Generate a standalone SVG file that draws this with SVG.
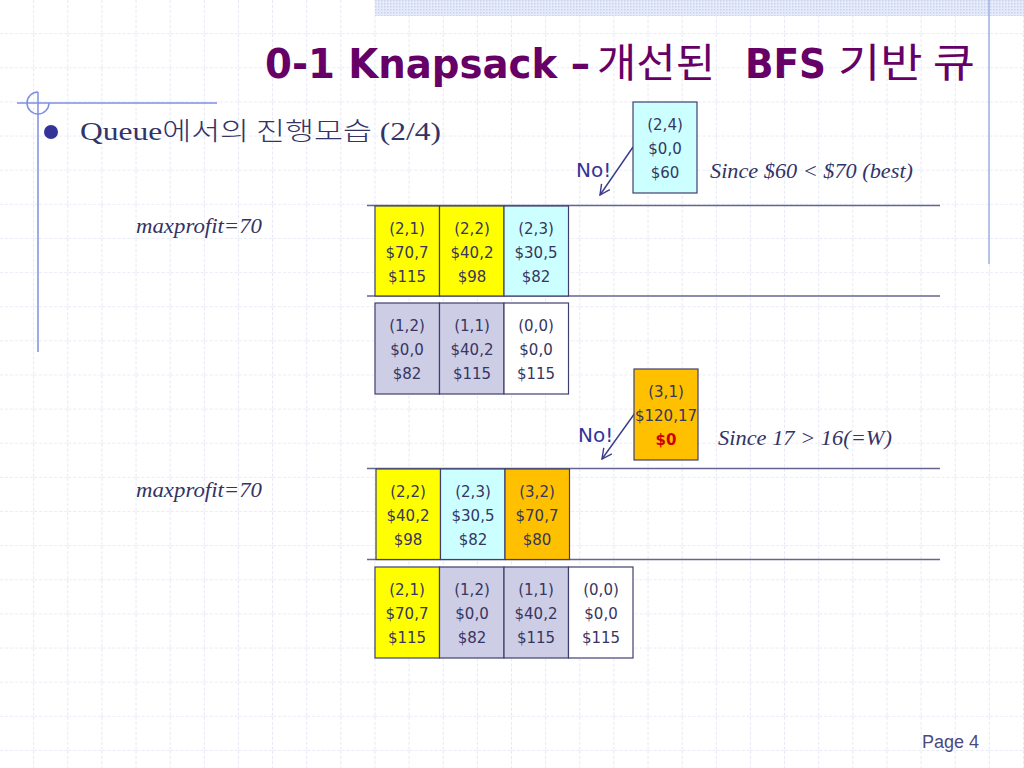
<svg xmlns="http://www.w3.org/2000/svg" width="1024" height="768" viewBox="0 0 1024 768">
<defs>
<pattern id="grid" x="0" y="0" width="34.133" height="34.133" patternUnits="userSpaceOnUse">
<path d="M34.133 0V34.133M0 34.133H34.133" fill="none" stroke="#d3d8ee" stroke-width="1.2" stroke-dasharray="3 2"/>
</pattern>
<pattern id="dots" x="0" y="0" width="3" height="3" patternUnits="userSpaceOnUse">
<rect width="3" height="3" fill="#e6ebf9"/>
<rect width="1.5" height="1.5" fill="#c9d3f0"/>
</pattern>
<marker id="arr" viewBox="0 0 12 12" refX="11" refY="6" markerWidth="12" markerHeight="12" markerUnits="userSpaceOnUse" orient="auto">
<path d="M1 1L11 6L1 11" fill="none" stroke="#3a3a8c" stroke-width="1.4"/>
</marker>
</defs>
<style>
.bx{stroke:#404070;stroke-width:1.2}
.y{fill:#ffff00}.c{fill:#ccffff}.w{fill:#ffffff}.o{fill:#ffc000}
.lav{fill:#cdcde6}
.t{font-family:"DejaVu Sans","Verdana",sans-serif;font-size:15px;fill:#36365f;text-anchor:middle}
.it{font-family:"Liberation Serif","DejaVu Serif",serif;font-style:italic;font-size:22px;fill:#333366}
.no{font-family:"DejaVu Sans",sans-serif;font-size:20px;fill:#333399}
.row{stroke:#65658f;stroke-width:1.5}
.ti{fill:#660066;font-size:40px}
</style>
<rect width="1024" height="768" fill="#ffffff"/>
<rect width="1024" height="768" fill="url(#grid)"/>
<rect x="375" y="0" width="649" height="16" fill="url(#dots)"/>
<line x1="989" y1="0" x2="989" y2="264" stroke="#9fb0e3" stroke-width="1.5"/>
<g id="deco" fill="none" stroke="#7d8fe3" stroke-width="1.5">
<line x1="17" y1="103" x2="217" y2="103"/>
<line x1="38" y1="92" x2="38" y2="352"/>
<path d="M38 92A11 11 0 1 0 49 103"/>
</g>
<g id="title">
<text class="ti" x="265" y="78" font-family="'DejaVu Sans',Tahoma,sans-serif" font-weight="bold" textLength="325" lengthAdjust="spacingAndGlyphs">0-1 Knapsack –</text>
<text class="ti" x="597" y="77" font-family="'Noto Sans CJK KR',sans-serif" textLength="118" lengthAdjust="spacingAndGlyphs">개선된</text>
<text class="ti" x="745" y="78" font-family="'DejaVu Sans',Tahoma,sans-serif" font-weight="bold" textLength="81" lengthAdjust="spacingAndGlyphs">BFS</text>
<text class="ti" x="838" y="77" font-family="'Noto Sans CJK KR',sans-serif" textLength="137" lengthAdjust="spacingAndGlyphs">기반 큐</text>
</g>
<g id="subtitle">
<circle cx="51" cy="132" r="7" fill="#333399"/>
<text x="80" y="140" font-family="'Liberation Serif','Noto Sans CJK KR',serif" font-size="25" fill="#333366" textLength="361" lengthAdjust="spacingAndGlyphs">Queue<tspan font-family="'Noto Sans CJK KR',sans-serif" font-weight="300">에서의 진행모습</tspan> (2/4)</text>
</g>
<g id="connectors">
<line class="row" x1="367" y1="205.5" x2="940" y2="205.5"/>
<line class="row" x1="367" y1="296" x2="940" y2="296"/>
<line class="row" x1="367" y1="468.5" x2="940" y2="468.5"/>
<line class="row" x1="367" y1="559.5" x2="940" y2="559.5"/>
<line x1="633" y1="147" x2="600" y2="195" stroke="#3a3a8c" stroke-width="1.4" marker-end="url(#arr)"/>
<line x1="635" y1="413" x2="602" y2="459" stroke="#3a3a8c" stroke-width="1.4" marker-end="url(#arr)"/>
</g>
<g id="labels">
<text class="no" x="576" y="177">No!</text>
<text class="no" x="578" y="442">No!</text>
<text class="it" x="710" y="178" textLength="203" lengthAdjust="spacingAndGlyphs">Since $60 &lt; $70 (best)</text>
<text class="it" x="718" y="445" textLength="174" lengthAdjust="spacingAndGlyphs">Since 17 &gt; 16(=W)</text>
<text class="it" x="136" y="233" textLength="126" lengthAdjust="spacingAndGlyphs">maxprofit=70</text>
<text class="it" x="136" y="497" textLength="126" lengthAdjust="spacingAndGlyphs">maxprofit=70</text>
</g>
<g id="n24"><rect class="bx c" x="633" y="102" width="64" height="91"/><text class="t" x="665" y="130">(2,4)</text><text class="t" x="665" y="154">$0,0</text><text class="t" x="665" y="178">$60</text></g>
<g id="r1a"><rect class="bx y" x="375" y="206" width="64.5" height="90"/><text class="t" x="407" y="234">(2,1)</text><text class="t" x="407" y="258">$70,7</text><text class="t" x="407" y="282">$115</text></g>
<g id="r1b"><rect class="bx y" x="439.5" y="206" width="64.5" height="90"/><text class="t" x="472" y="234">(2,2)</text><text class="t" x="472" y="258">$40,2</text><text class="t" x="472" y="282">$98</text></g>
<g id="r1c"><rect class="bx c" x="504" y="206" width="64.5" height="90"/><text class="t" x="536" y="234">(2,3)</text><text class="t" x="536" y="258">$30,5</text><text class="t" x="536" y="282">$82</text></g>
<g id="r2a"><rect class="bx lav" x="375" y="303" width="64.5" height="91"/><text class="t" x="407" y="331">(1,2)</text><text class="t" x="407" y="355">$0,0</text><text class="t" x="407" y="379">$82</text></g>
<g id="r2b"><rect class="bx lav" x="439.5" y="303" width="64.5" height="91"/><text class="t" x="472" y="331">(1,1)</text><text class="t" x="472" y="355">$40,2</text><text class="t" x="472" y="379">$115</text></g>
<g id="r2c"><rect class="bx w" x="504" y="303" width="64.5" height="91"/><text class="t" x="536" y="331">(0,0)</text><text class="t" x="536" y="355">$0,0</text><text class="t" x="536" y="379">$115</text></g>
<g id="n31"><rect class="bx o" x="634" y="369" width="64" height="91"/><text class="t" x="666" y="397">(3,1)</text><text class="t" x="666" y="421">$120,17</text><text class="t" x="666" y="445" font-weight="bold" style="fill:#cc0000">$0</text></g>
<g id="r3a"><rect class="bx y" x="376" y="469" width="64.5" height="90.5"/><text class="t" x="408" y="497">(2,2)</text><text class="t" x="408" y="521">$40,2</text><text class="t" x="408" y="545">$98</text></g>
<g id="r3b"><rect class="bx c" x="440.5" y="469" width="64.5" height="90.5"/><text class="t" x="473" y="497">(2,3)</text><text class="t" x="473" y="521">$30,5</text><text class="t" x="473" y="545">$82</text></g>
<g id="r3c"><rect class="bx o" x="505" y="469" width="64.5" height="90.5"/><text class="t" x="537" y="497">(3,2)</text><text class="t" x="537" y="521">$70,7</text><text class="t" x="537" y="545">$80</text></g>
<g id="r4a"><rect class="bx y" x="375" y="567" width="64.5" height="91"/><text class="t" x="407" y="595">(2,1)</text><text class="t" x="407" y="619">$70,7</text><text class="t" x="407" y="643">$115</text></g>
<g id="r4b"><rect class="bx lav" x="439.5" y="567" width="64.5" height="91"/><text class="t" x="472" y="595">(1,2)</text><text class="t" x="472" y="619">$0,0</text><text class="t" x="472" y="643">$82</text></g>
<g id="r4c"><rect class="bx lav" x="504" y="567" width="64.5" height="91"/><text class="t" x="536" y="595">(1,1)</text><text class="t" x="536" y="619">$40,2</text><text class="t" x="536" y="643">$115</text></g>
<g id="r4d"><rect class="bx w" x="568.5" y="567" width="64.5" height="91"/><text class="t" x="601" y="595">(0,0)</text><text class="t" x="601" y="619">$0,0</text><text class="t" x="601" y="643">$115</text></g>
<text x="979" y="748" text-anchor="end" font-family="'Liberation Sans',Arial,sans-serif" font-size="18" fill="#4a4a80">Page 4</text>
</svg>
